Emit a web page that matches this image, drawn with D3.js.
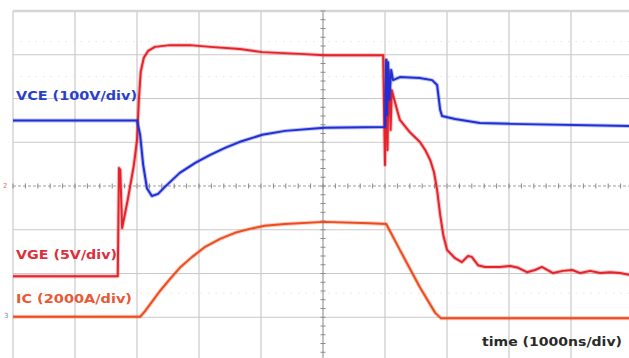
<!DOCTYPE html>
<html>
<head>
<meta charset="utf-8">
<script src="https://cdn.jsdelivr.net/npm/d3@7"></script>
<style>
  body { margin: 0; background: #fff; }
  svg { display: block; }
</style>
</head>
<body>
<svg id="scope" width="629" height="358"></svg>
<script>
// time in us (1000ns/div), level in divisions from screen centre
const vceT = [0, 2.00, 2.05, 2.10, 2.16, 2.24, 2.34, 2.45, 2.69, 2.94, 3.18, 3.42, 3.66, 4.02, 4.39, 5.02, 6.00,
  6.02, 6.03, 6.05, 6.07, 6.10, 6.13, 6.24, 6.56, 6.76, 6.84, 6.89, 6.92, 7.13, 7.53, 8.02, 9.94];
const vceV = [1.50, 1.50, 1.17, 0.48, -0.05, -0.23, -0.18, -0.02, 0.30, 0.53, 0.71, 0.87, 1.01, 1.17, 1.26, 1.33, 1.35,
  2.88, 1.62, 2.83, 1.97, 2.65, 2.42, 2.49, 2.47, 2.42, 2.31, 1.74, 1.60, 1.53, 1.44, 1.42, 1.37];

const vgeT = [0, 1.69, 1.71, 1.73, 1.76, 1.85, 1.95, 2.00, 2.03, 2.06, 2.11, 2.18, 2.29, 2.53, 2.85, 3.18, 3.66, 4.02,
  4.63, 5.02, 5.97, 6.00, 6.02, 6.04, 6.06, 6.09, 6.11, 6.15, 6.24, 6.40, 6.56, 6.65, 6.73, 6.79, 6.84, 6.89, 6.94,
  7.00, 7.13, 7.24, 7.34, 7.40, 7.50, 7.61, 7.85, 8.02, 8.15, 8.29, 8.42, 8.53, 8.71, 8.87, 9.02, 9.15, 9.31, 9.47,
  9.63, 9.79, 9.94];
const vgeV = [-2.06, -2.06, 0.41, 0.37, -0.96, -0.32, 0.48, 1.05, 1.97, 2.61, 2.93, 3.09, 3.18, 3.22, 3.22, 3.18, 3.13, 3.06,
  3.02, 2.99, 2.99, 0.48, 2.88, 0.82, 2.65, 1.28, 2.19, 1.97, 1.51, 1.23, 1.01, 0.82, 0.59, 0.32, -0.09, -0.66, -1.12,
  -1.46, -1.65, -1.74, -1.60, -1.62, -1.81, -1.85, -1.85, -1.83, -1.87, -1.97, -1.92, -1.85, -1.99, -1.94, -1.92, -1.99, -1.94, -1.99,
  -1.97, -1.99, -2.03];

const icT = [0, 2.05, 2.13, 2.24, 2.37, 2.53, 2.69, 2.89, 3.10, 3.34, 3.58, 3.82, 4.06, 4.39, 5.02, 5.76, 6.02,
  6.24, 6.56, 6.81, 6.90, 9.94];
const icV = [-2.99, -2.99, -2.86, -2.65, -2.40, -2.13, -1.87, -1.62, -1.39, -1.21, -1.07, -0.98, -0.91, -0.87, -0.82, -0.85, -0.87,
  -1.46, -2.31, -2.90, -3.02, -3.02];

const labels = ['VCE (100V/div)', 'VGE (5V/div)', 'IC (2000A/div)'];
const xLabel = 'time (1000ns/div)';

const svg = d3.select('#scope');
const x = d3.scaleLinear().domain([0, 10]).range([13, 633]);
const y = d3.scaleLinear().domain([-4, 4]).range([361, 11]);

// grid
const grid = svg.append('g');
grid.selectAll('.vg')
  .data(x.ticks(10))
  .enter().append('line')
  .attr('x1', d => x(d)).attr('x2', d => x(d))
  .attr('y1', y(4)).attr('y2', y(-4))
  .attr('stroke', d => d === 5 ? '#9a9a9a' : '#c9c9c9')
  .attr('stroke-width', 1.2);
grid.selectAll('.hg')
  .data(y.ticks(8))
  .enter().append('line')
  .attr('x1', x(0)).attr('x2', x(10))
  .attr('y1', d => y(d)).attr('y2', d => y(d))
  .attr('stroke', d => d === 4 ? '#d6d6d6' : (d === 0 ? '#a0a0a0' : '#c9c9c9'))
  .attr('stroke-width', d => d === 4 ? 2.5 : 1.2)
  .attr('stroke-dasharray', d => d === 0 ? '3,2' : null);

// faint dotted rows seen on the screen
grid.selectAll('.dots')
  .data([3.3, 2.5, -2.45])
  .enter().append('line')
  .attr('x1', x(0)).attr('x2', x(10))
  .attr('y1', d => y(d)).attr('y2', d => y(d))
  .attr('stroke', '#e6e6e6')
  .attr('stroke-dasharray', '1.5,6');

// minor ticks on centre axes
grid.selectAll('.tx')
  .data(d3.range(0, 10.01, 0.2))
  .enter().append('line')
  .attr('x1', d => x(d)).attr('x2', d => x(d))
  .attr('y1', y(0) - 2.5).attr('y2', y(0) + 2.5)
  .attr('stroke', '#8a8a8a');
grid.selectAll('.ty')
  .data(d3.range(-4, 4.01, 0.2))
  .enter().append('line')
  .attr('x1', x(5) - 2.5).attr('x2', x(5) + 2.5)
  .attr('y1', d => y(d)).attr('y2', d => y(d))
  .attr('stroke', '#8a8a8a');

// traces
const line = d3.line().x(d => x(d[0])).y(d => y(d[1]));
const traces = [
  { t: icT, v: icV, color: '#ec4d1f' },
  { t: vgeT, v: vgeV, color: '#e4232b' },
  { t: vceT, v: vceV, color: '#1f2fd4' }
];
traces.forEach(tr => {
  const pts = tr.t.map((t, i) => [t, tr.v[i]]);
  svg.append('path')
    .attr('d', line(pts))
    .attr('fill', 'none')
    .attr('stroke', tr.color)
    .attr('stroke-opacity', 0.3)
    .attr('stroke-width', 4)
    .attr('stroke-linejoin', 'round');
  svg.append('path')
    .attr('d', line(pts))
    .attr('fill', 'none')
    .attr('stroke', tr.color)
    .attr('stroke-width', 2)
    .attr('stroke-linejoin', 'round');
});

// channel labels
const labelPos = [
  { x: 16, y: 100, w: 121, color: '#2a3fc9' },
  { x: 16, y: 259, w: 101, color: '#dc2f3c' },
  { x: 16, y: 303, w: 116, color: '#e65a36' }
];
svg.selectAll('.lab')
  .data(labels)
  .enter().append('text')
  .attr('x', (d, i) => labelPos[i].x)
  .attr('y', (d, i) => labelPos[i].y)
  .attr('textLength', (d, i) => labelPos[i].w)
  .attr('lengthAdjust', 'spacingAndGlyphs')
  .attr('fill', (d, i) => labelPos[i].color)
  .style('font', 'bold 13px "DejaVu Sans", Verdana, sans-serif')
  .text(d => d);

svg.append('text')
  .attr('x', 482).attr('y', 346)
  .attr('textLength', 140)
  .attr('lengthAdjust', 'spacingAndGlyphs')
  .attr('fill', '#2a2a2a')
  .style('font', 'bold 13px "DejaVu Sans", Verdana, sans-serif')
  .text(xLabel);

// ground markers at the left edge
svg.append('text').attr('x', 3).attr('y', 188)
  .attr('fill', '#e07070').style('font', '7px "DejaVu Sans"').text('2');
svg.append('text').attr('x', 4).attr('y', 318)
  .attr('fill', '#8080b0').style('font', '7px "DejaVu Sans"').text('3');
</script>
</body>
</html>
